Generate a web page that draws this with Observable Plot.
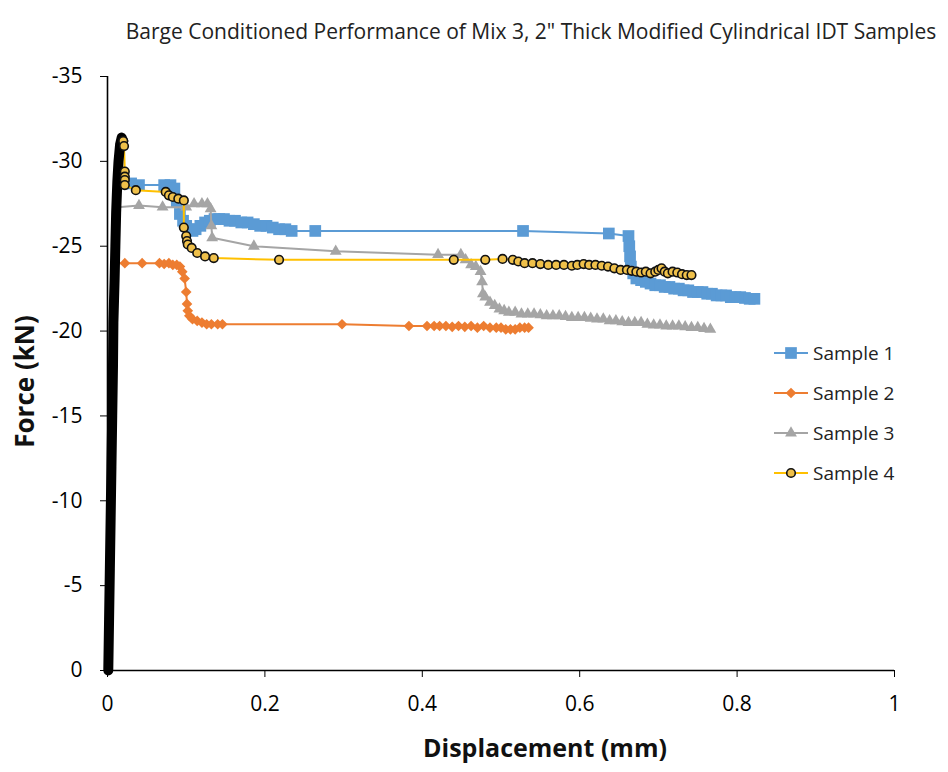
<!DOCTYPE html>
<html><head><meta charset="utf-8">
<script src="https://cdn.jsdelivr.net/npm/d3@7"></script>
<script src="https://cdn.jsdelivr.net/npm/@observablehq/plot@0.6"></script>
<style>
body{margin:0;background:#fff;}
#wrap{position:relative;width:948px;height:772px;font-family:"Open Sans",sans-serif;}
#legend{position:absolute;left:772px;top:333px;}
.li{display:flex;align-items:center;height:40px;font-size:19px;color:#222;}
.li svg{margin-right:3px;}
</style></head><body>
<div id="wrap"><div id="chart"></div><div id="legend"></div></div>
<script>
const titleText = 'Barge Conditioned Performance of Mix 3, 2" Thick Modified Cylindrical IDT Samples';
const seriesNames = ["Sample 1","Sample 2","Sample 3","Sample 4"];
const seriesColors = ["#5B9BD5","#ED7D31","#A5A5A5","#FFC000"];
const xTicks = [0,0.2,0.4,0.6,0.8,1];
const yTicks = [0,-5,-10,-15,-20,-25,-30,-35];

// Sample 1 [displacement mm, force kN]
const s1 = [[0.002,0],[0.014,-27.8],[0.019,-28.7],[0.03,-28.7],[0.04,-28.6],
[0.072,-28.6],[0.08,-28.6],[0.085,-28.4],[0.088,-27.6],[0.092,-26.9],[0.096,-26.5],[0.100,-26.2],[0.104,-26.0],
[0.108,-25.9],[0.112,-26.0],[0.118,-26.2],[0.124,-26.4],[0.130,-26.5],[0.136,-26.6],[0.142,-26.6],[0.148,-26.6],
[0.155,-26.5],[0.162,-26.5],[0.170,-26.4],[0.178,-26.4],[0.186,-26.3],[0.194,-26.2],[0.202,-26.2],[0.210,-26.1],
[0.218,-26.0],[0.226,-26.0],[0.234,-25.9],[0.264,-25.9],[0.528,-25.9],[0.637,-25.75],[0.662,-25.6],[0.663,-25.0],
[0.664,-24.4],[0.665,-23.8],[0.668,-23.4],[0.672,-23.1],[0.678,-23.0],[0.684,-22.9],[0.690,-22.8],[0.696,-22.7],
[0.702,-22.7],[0.708,-22.6],[0.714,-22.6],[0.720,-22.5],[0.726,-22.5],[0.732,-22.4],[0.738,-22.4],[0.744,-22.3],
[0.750,-22.3],[0.756,-22.3],[0.762,-22.2],[0.768,-22.2],[0.774,-22.1],[0.780,-22.1],[0.786,-22.1],[0.792,-22.0],
[0.798,-22.0],[0.804,-22.0],[0.810,-21.95],[0.816,-21.9],[0.822,-21.9]];

// Sample 2
const s2 = [[0.002,0],[0.011,-24.0],[0.022,-24.0],[0.044,-24.0],[0.066,-24.0],
[0.072,-23.95],[0.078,-24.0],[0.083,-23.9],[0.088,-23.9],[0.092,-23.8],[0.095,-23.5],[0.098,-23.1],[0.100,-22.3],
[0.101,-21.6],[0.102,-21.2],[0.104,-20.9],[0.108,-20.7],[0.114,-20.6],[0.120,-20.5],[0.126,-20.4],[0.132,-20.4],
[0.140,-20.4],[0.146,-20.4],[0.298,-20.4],[0.383,-20.3],[0.406,-20.3],[0.415,-20.3],[0.422,-20.3],[0.430,-20.3],
[0.438,-20.25],[0.446,-20.3],[0.454,-20.25],[0.462,-20.3],[0.470,-20.2],[0.478,-20.3],[0.486,-20.2],[0.494,-20.2],
[0.500,-20.2],[0.506,-20.1],[0.512,-20.1],[0.518,-20.1],[0.524,-20.2],[0.530,-20.2],[0.535,-20.2]];

// Sample 3
const s3 = [[0.002,0],[0.013,-27.3],[0.040,-27.4],[0.070,-27.3],[0.100,-27.3],
[0.110,-27.5],[0.120,-27.5],[0.127,-27.5],[0.131,-27.2],[0.132,-26.2],[0.133,-25.5],[0.186,-25.0],[0.29,-24.7],
[0.420,-24.5],[0.449,-24.5],[0.455,-24.2],[0.462,-23.9],[0.468,-23.8],[0.474,-23.5],[0.476,-22.9],[0.477,-22.2],
[0.480,-22.0],[0.486,-21.7],[0.492,-21.5],[0.498,-21.3],[0.504,-21.2],[0.510,-21.1],[0.518,-21.1],[0.526,-21.0],
[0.534,-21.0],[0.542,-21.0],[0.550,-20.95],[0.558,-20.9],[0.566,-20.9],[0.574,-20.9],[0.582,-20.85],[0.590,-20.8],
[0.598,-20.8],[0.606,-20.8],[0.614,-20.75],[0.622,-20.7],[0.630,-20.7],[0.638,-20.6],[0.646,-20.6],[0.654,-20.55],
[0.662,-20.5],[0.670,-20.5],[0.678,-20.5],[0.686,-20.4],[0.694,-20.35],[0.702,-20.35],[0.710,-20.3],[0.718,-20.3],
[0.726,-20.3],[0.734,-20.25],[0.742,-20.2],[0.750,-20.2],[0.758,-20.15],[0.766,-20.1]];

// Sample 4: dense loading branch (overlapping markers, appears solid black)
const s4Rise = [[0.001,0],[0.002,-3],[0.003,-6],[0.004,-9],[0.005,-12],[0.006,-15],[0.007,-18],[0.0075,-20.5],
[0.009,-23],[0.010,-25],[0.011,-27],[0.0125,-28.8],[0.014,-30],[0.016,-31],[0.018,-31.4],[0.020,-31.2]];
// Sample 4: post-peak branch
const s4 = [[0.020,-31.2],[0.021,-30.9],[0.022,-29.4],[0.022,-29.1],[0.022,-28.9],[0.022,-28.6],[0.036,-28.3],
[0.074,-28.2],[0.078,-28.0],[0.083,-27.9],[0.090,-27.8],[0.097,-27.7],[0.097,-26.1],[0.100,-25.6],[0.101,-25.3],
[0.102,-25.1],[0.107,-24.9],[0.114,-24.6],[0.124,-24.4],[0.135,-24.3],[0.218,-24.2],[0.44,-24.2],[0.48,-24.2],
[0.502,-24.25],[0.515,-24.2],[0.522,-24.1],[0.53,-24.0],[0.54,-24.0],[0.55,-23.95],[0.56,-23.9],[0.57,-23.9],
[0.58,-23.9],[0.59,-23.85],[0.597,-23.9],[0.605,-23.95],[0.612,-23.9],[0.62,-23.9],[0.628,-23.85],[0.636,-23.8],
[0.644,-23.7],[0.652,-23.6],[0.66,-23.6],[0.666,-23.55],[0.672,-23.5],[0.678,-23.45],[0.684,-23.5],[0.69,-23.4],
[0.696,-23.5],[0.700,-23.6],[0.704,-23.7],[0.708,-23.5],[0.712,-23.4],[0.718,-23.5],[0.724,-23.45],[0.730,-23.35],
[0.736,-23.3],[0.742,-23.3]];

const symbols = ["square","diamond2","triangle","circle"];
const markerR = [6.6,4.8,4.4,4.3];
const data = [s1,s2,s3,s4];

const marks = [
  Plot.ruleY([0], {stroke:"#000", strokeWidth:1.6}),
  Plot.ruleX([0], {stroke:"#000", strokeWidth:1.6}),
  Plot.axisX({ticks:xTicks, tickFormat:d=>String(d), tickSize:7, tickPadding:19, fontSize:21, label:null}),
  Plot.axisY({ticks:yTicks, tickFormat:d=>String(d), tickSize:7, tickPadding:18, fontSize:21, label:null})
];
for (let i=0;i<3;i++){
  marks.push(Plot.line(data[i], {x:d=>d[0], y:d=>d[1], stroke:seriesColors[i], strokeWidth:2}));
  marks.push(Plot.dot(data[i].slice(2), {x:d=>d[0], y:d=>d[1], symbol:symbols[i], r:markerR[i], fill:seriesColors[i], stroke:"none"}));
}
marks.push(Plot.line(s4, {x:d=>d[0], y:d=>d[1], stroke:seriesColors[3], strokeWidth:2}));
marks.push(Plot.line(s4Rise, {x:d=>d[0], y:d=>d[1], stroke:"#000", strokeWidth:10, strokeLinecap:"round", strokeLinejoin:"round"}));
marks.push(Plot.dot(s4, {x:d=>d[0], y:d=>d[1], symbol:"circle", r:markerR[3], fill:"#EFC04A", stroke:"#111", strokeWidth:1.6}));
marks.push(Plot.text([titleText], {frameAnchor:"top", dy:-52, dx:30, fontSize:21, fill:"#222", text:d=>d}));
marks.push(Plot.text(["Force (kN)"], {frameAnchor:"left", textAnchor:"middle", dx:-82, dy:8, rotate:-90, fontSize:26, fontWeight:"bold", fill:"#111", text:d=>d}));
marks.push(Plot.text(["Displacement (mm)"], {frameAnchor:"bottom", dy:86, dx:44, fontSize:25, fontWeight:"bold", fill:"#111", text:d=>d}));

const chart = Plot.plot({
  width:948, height:772, marginLeft:107, marginRight:54, marginTop:76, marginBottom:102,
  style:{fontFamily:"'Open Sans', sans-serif", color:"#000", background:"#fff", overflow:"visible"},
  x:{domain:[0,1]},
  y:{domain:[0,-35]},
  marks
});
document.getElementById("chart").appendChild(chart);

// legend
const legend = d3.select("#legend");
seriesNames.forEach((name,i)=>{
  const row = legend.append("div").attr("class","li");
  const svg = row.append("svg").attr("width",38).attr("height",20);
  svg.append("line").attr("x1",2).attr("x2",36).attr("y1",10).attr("y2",10).attr("stroke",seriesColors[i]).attr("stroke-width",2);
  const sym = [d3.symbolSquare, d3.symbolDiamond2, d3.symbolTriangle, d3.symbolCircle][i];
  const r = markerR[i];
  svg.append("path").attr("transform","translate(19,10)").attr("d", d3.symbol(sym, Math.PI*r*r)())
     .attr("fill", i===3 ? "#EFC04A" : seriesColors[i]).attr("stroke", i===3 ? "#111" : "none").attr("stroke-width",1.6);
  row.append("span").text(name);
});
</script>
</body></html>
